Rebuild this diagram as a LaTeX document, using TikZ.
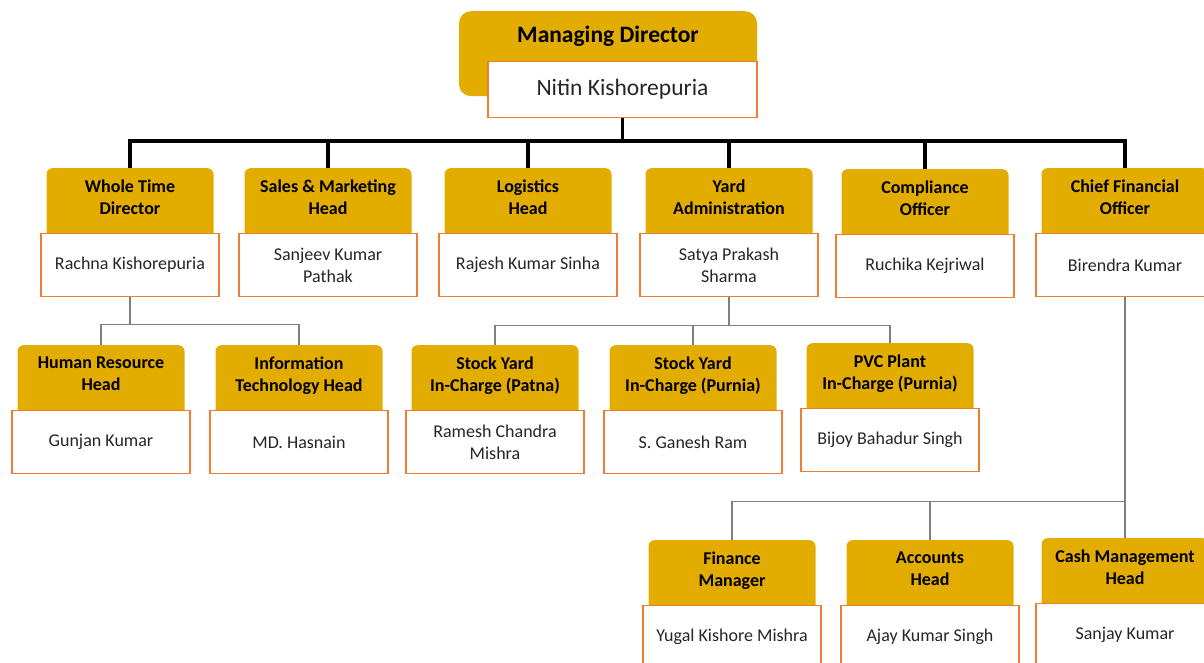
\documentclass[tikz,border=0pt]{standalone}
\usepackage{fontspec}
\setmainfont{Carlito}
\usetikzlibrary{positioning}

\definecolor{gold}{RGB}{226,172,0}
\definecolor{boxline}{RGB}{237,125,49}
\definecolor{linkgray}{RGB}{128,128,128}
\definecolor{nametext}{RGB}{38,38,38}

\newcommand\hdfont{\fontsize{18}{22}\selectfont\bfseries}
\newcommand\nmfont{\fontsize{18}{22}\selectfont}
\newcommand\mdfont{\fontsize{23.5}{28}\selectfont}

\tikzset{
    head/.style={fill=gold, rounded corners=6pt, minimum width=167pt, minimum height=71pt,
        inner sep=0pt, align=center, font=\hdfont, text depth=14pt, anchor=north},
    namebox/.style={draw=boxline, line width=1.3pt, fill=white, minimum width=178pt,
        minimum height=63pt, inner sep=0pt, align=center, font=\nmfont, text=nametext},
    bus/.style={line width=3.5pt, black},
    link/.style={line width=1.5pt, linkgray},
}

\begin{document}
\begin{tikzpicture}[x=1pt, y=-1pt]
    \useasboundingbox (0,0) rectangle (1204,662);

    % Managing Director
    \node[fill=gold, rounded corners=12pt, minimum width=298pt, minimum height=85pt,
        anchor=north] (mdt) at (608,11) {};
    \node[font=\mdfont\bfseries] (mdtitle) at (608,36) {Managing Director};
    \node[namebox, minimum width=269pt, minimum height=56pt, font=\mdfont, anchor=north]
        (md) at (622.5,61) {Nitin Kishorepuria};

    % First level
    \node[head] (wtdt) at (130,168) {Whole Time\\Director};
    \node[namebox, below=65pt of wtdt.north] (wtd) {Rachna Kishorepuria};
    \node[head] (salest) at (328,168) {Sales \& Marketing\\Head};
    \node[namebox, below=65pt of salest.north] (sales) {Sanjeev Kumar\\Pathak};
    \node[head] (logit) at (528,168) {Logistics\\Head};
    \node[namebox, below=65pt of logit.north] (logi) {Rajesh Kumar Sinha};
    \node[head] (yardt) at (729,168) {Yard\\Administration};
    \node[namebox, below=65pt of yardt.north] (yard) {Satya Prakash\\Sharma};
    \node[head] (compt) at (925,169) {Compliance\\Officer};
    \node[namebox, below=65pt of compt.north] (comp) {Ruchika Kejriwal};
    \node[head] (cfot) at (1125,168) {Chief Financial\\Officer};
    \node[namebox, below=65pt of cfot.north] (cfo) {Birendra Kumar};

    % Under Whole Time Director
    \node[head] (hrt) at (101,345) {Human Resource\\Head};
    \node[namebox, below=65pt of hrt.north] (hr) {Gunjan Kumar};
    \node[head] (itt) at (299,345) {Information\\Technology Head};
    \node[namebox, below=65pt of itt.north] (it) {MD. Hasnain};

    % Under Yard Administration
    \node[head] (syat) at (495,345) {Stock Yard\\In-Charge (Patna)};
    \node[namebox, below=65pt of syat.north] (sya) {Ramesh Chandra\\Mishra};
    \node[head] (sybt) at (693,345) {Stock Yard\\In-Charge (Purnia)};
    \node[namebox, below=65pt of sybt.north] (syb) {S. Ganesh Ram};
    \node[head] (pvct) at (890,343) {PVC Plant\\In-Charge (Purnia)};
    \node[namebox, below=65pt of pvct.north] (pvc) {Bijoy Bahadur Singh};

    % Under Chief Financial Officer
    \node[head] (fint) at (732,540) {Finance\\Manager};
    \node[namebox, below=65pt of fint.north] (fin) {Yugal Kishore Mishra};
    \node[head] (acct) at (930,540) {Accounts\\Head};
    \node[namebox, below=65pt of acct.north] (acc) {Ajay Kumar Singh};
    \node[head] (casht) at (1125,538) {Cash Management\\Head};
    \node[namebox, below=65pt of casht.north] (cash) {Sanjay Kumar};

    % Connectors
    \coordinate (busline) at (0,141);
    \draw[bus] (md.south) -- (md.south |- busline);
    \foreach \n in {wtdt,salest,logit,yardt,compt,cfot}
        \draw[bus] (md.south |- busline) -| (\n.north);
    \foreach \n in {hrt,itt}
        \draw[link] (wtd.south) -- ++(0,27) -| (\n.north);
    \foreach \n in {syat,sybt,pvct}
        \draw[link] (yard.south) -- ++(0,28) -| (\n.north);
    \foreach \n in {fint,acct,casht}
        \draw[link] (cfo.south) -- ++(0,204) -| (\n.north);
\end{tikzpicture}
\end{document}
